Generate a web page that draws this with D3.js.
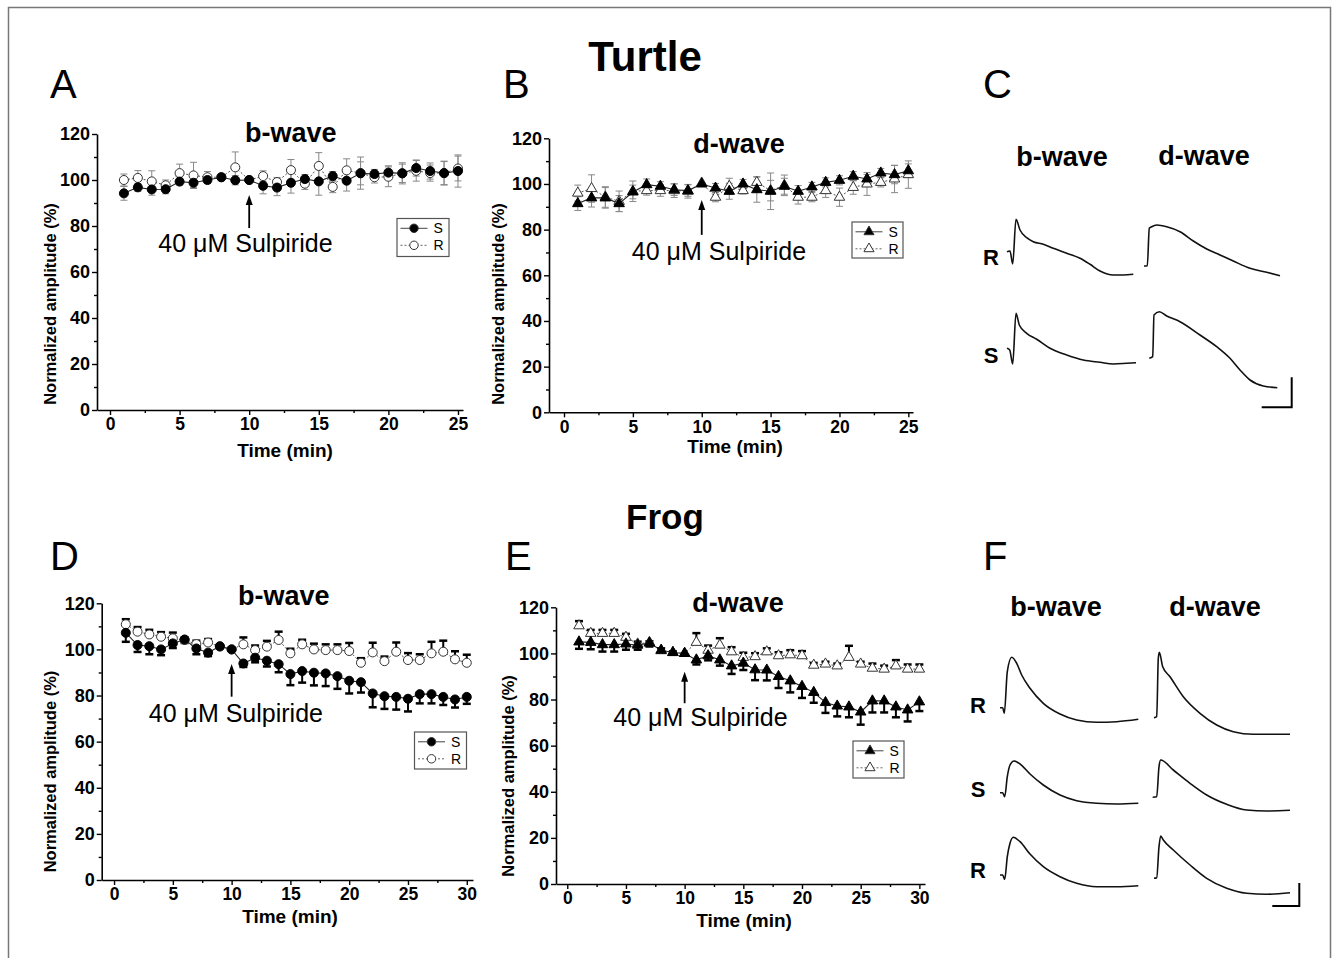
<!DOCTYPE html>
<html>
<head>
<meta charset="utf-8">
<script src="https://cdn.jsdelivr.net/npm/d3@7"></script>
<style>
  body { margin: 0; background: #fff; }
  svg { display: block; font-family: "Liberation Sans", Arial, Helvetica, sans-serif; }
</style>
</head>
<body>
<svg id="fig" width="1333" height="958"></svg>
<script>
// ---------------- data ----------------
const minutesTurtle = [1,2,3,4,5,6,7,8,9,10,11,12,13,14,15,16,17,18,19,20,21,22,23,24,25];
const minutesFrog = [1,2,3,4,5,6,7,8,9,10,11,12,13,14,15,16,17,18,19,20,21,22,23,24,25,26,27,28,29,30];

const yTicks = [0, 20, 40, 60, 80, 100, 120];
const yMinorTicks = [10, 30, 50, 70, 90, 110];
const xTicksTurtle = [0, 5, 10, 15, 20, 25];
const xMinorTurtle = [2.5, 7.5, 12.5, 17.5, 22.5];
const xTicksFrog = [0, 5, 10, 15, 20, 25, 30];
const xMinorFrog = [2.5, 7.5, 12.5, 17.5, 22.5, 27.5];

// Turtle b-wave (%), mean and SEM
const turtleBwaveS    = [94.2,96.8,95.9,96,99.3,98.8,100,101.2,99.9,100,97.5,96.7,98.8,100.4,99.4,101.7,99.7,102.9,102.6,103.2,102.9,105.2,103.9,103,103.9];
const turtleBwaveSerr = [3,1.7,2.5,2,1.5,2,1.5,1,2,0,3.5,3.5,4.5,2,6,2,4.5,5,2,3,4,3.5,3.5,5,7];
const turtleBwaveR    = [100,100.9,99.4,97.7,103,102,101.2,101.2,105.5,100,101.7,99.1,104.3,98.4,106.1,97,104.2,103,101.2,101.4,102.9,104,103,103,105];
const turtleBwaveRerr = [2.6,3.2,4.6,2.3,3.9,5.7,2.5,1.5,6.7,0,2.3,2,4.6,2.5,5.8,2.5,5,7,2.5,4.3,4.6,4.5,3.5,5.2,5.4];

// Turtle d-wave (%)
const turtleDwaveS    = [91.4,93.9,93.9,91.4,96.5,99.7,99,97.5,97.1,100,98.2,96.8,100,97.5,96.8,99,96.8,98.7,100.7,101.6,103.4,102.2,104.8,104.1,105.8];
const turtleDwaveSerr = [3,4,4.5,3.5,3,2.5,2,2.5,2.5,0,2,3.5,2,5.5,8,3.5,2.5,2,2,2,2,2,2,4,3];
const turtleDwaveR    = [96,98,94.3,92.4,96.8,97.1,97.1,97.1,96.8,100.4,94.2,99,97.1,100.7,97.1,99.4,94.2,94.2,97.1,94.2,98.5,100,100.7,102.2,104.1];
const turtleDwaveRerr = [3.5,6,4.5,4.5,4.5,2,2.5,3,3,0,2,3.5,1.5,2.5,4.5,4.5,3,2,3,4,3,5,2,6,6];

// Frog b-wave (%)
const frogBwaveS    = [107.2,101.9,101.4,100,102.6,104.3,100.4,98.6,101.4,100,93.9,96.4,95.1,93.6,89.3,90.6,89.9,89.6,88.4,86.4,85.8,80.9,79.7,79.4,78.6,80.6,80.6,79.4,78.3,79.4];
const frogBwaveSerr = [3.9,3,3.5,2.5,2,1.5,2.5,1.5,1,0,1.5,2,2.5,3.5,4.8,5,5.5,5.5,5.5,5.5,4.5,6,5.5,5.5,5.5,4,4,3.5,3.5,3];
const frogBwaveR    = [110.9,107.7,106.5,105.5,104.8,104.1,102.3,103,101.2,100,102.2,99.7,101.2,104.1,98.3,102.2,100,99.7,99.7,99.3,94.2,98.7,94.9,99,95.4,95.4,98.3,99,95.7,94.2];
const frogBwaveRerr = [2.2,2,2,2,2.5,1,1.5,1.5,0.5,0,3,2,2.5,3.6,2,2,2.5,2.5,2.5,3.5,2,4.2,2,4,3,2.5,5,4.8,3.5,3.5];

// Frog d-wave (%)
const frogDwaveS    = [105,104.8,103.8,103.8,104.1,103.6,104.5,101.4,100.4,100,97.2,99,97.2,94.6,95.8,92.9,92.8,90,88.1,85.7,83.1,78.7,77.2,76.8,74.6,79.4,79.4,76.8,75.5,79];
const frogDwaveSerr = [3,3,3,3,2.5,2,1.5,1,1,0,2,2,2.5,3.5,3,4.5,4.5,5,5,5,4.5,4.5,4.5,4.5,5.5,5,5,4.5,5,4];
const frogDwaveR    = [112,108.7,108.7,108.7,107,104.1,104.8,101.2,100.4,100,104.8,101.4,103.6,100.7,98.3,98.6,100.7,99,99.4,99,94.9,95.4,94.6,98.3,95.4,93.6,93.2,94.6,93.2,93.2];
const frogDwaveRerr = [2,1.5,1.5,1.5,1.5,1,0.5,1,0.5,0,4,2,3,2,2,1.5,1.5,1.5,2,2,1,1,1,5,1,2,1.5,2.5,2,2];

const drugLabel = "40 \u03BCM Sulpiride";
const drugTime = 10;

// Example ERG recordings: [time, amplitude] in trace units
const turtleTraceRb = [[0,14.3],[3,15],[5.7,2],[9,46.7],[13,36],[19.7,28.3],[26.3,24.3],[36.3,21.7],[46.3,17.7],[59.7,12.7],[73,7.7],[83,1.7],[93,-5],[106.3,-9],[116.3,-9],[126.3,-8.3]];
const turtleTraceRd = [[0,0],[3.3,0.3],[5.3,37.7],[7.7,39.3],[12.7,41],[22.7,39.3],[36,34.3],[49.3,25],[62.7,17],[76,11],[89.3,5],[106,-2.3],[122.7,-6.3],[136,-9.7]];
const turtleTraceSb = [[0,10],[2.7,8.3],[5.7,-5.7],[9,45],[12.3,33.3],[19.7,25],[29.7,19],[43,10],[59.7,3.3],[76.3,-1.7],[93,-4],[106.3,-5.7],[119.7,-5],[129,-4.4]];
const turtleTraceSd = [[5.3,0],[8.7,1.6],[10,43.3],[15.3,46.6],[22.7,42.3],[36,36.6],[56,23.3],[72.7,11.6],[86,0],[96,-11.7],[106,-21.7],[119.3,-27.7],[133.3,-29.4]];

const frogTraceR1b = [[0,10],[2.7,10],[4.3,4.4],[7.3,46],[11.7,60.4],[16.7,54.4],[21.7,42.7],[30,29.4],[43.3,14.4],[60,3.7],[76.7,-2.3],[96.7,-4.6],[116.7,-4],[138.3,-1.6]];
const frogTraceR1d = [[2,0],[4.7,1],[6.3,59.4],[7.3,65.4],[10.7,51],[18,41],[31.3,21],[48,4.4],[64.7,-7.3],[81.3,-14],[101.3,-16.6],[138,-16.6]];
const frogTraceSb  = [[0,4.6],[2.7,4.6],[4.7,0.6],[7.3,20.6],[10,32.3],[14,36.3],[20,33.3],[30,23.3],[43.3,12.3],[60,2.3],[76.7,-3.4],[96.7,-6],[116.7,-6.7],[138.3,-6]];
const frogTraceSd  = [[0.7,0],[4.7,0.6],[7,30.6],[8.7,37.3],[21.3,27.3],[38,14],[54.7,2.3],[74.7,-7],[94.7,-12.7],[114.7,-13.7],[138,-13]];
const frogTraceR2b = [[0,3.3],[2.7,3.3],[4.7,-1],[7.3,21.6],[10,35],[13.3,41],[20,36.6],[30,24.3],[43.3,11.6],[60,1.6],[76.7,-5],[96.7,-8.4],[116.7,-8.4],[138.3,-7.4]];
const frogTraceR2d = [[2,0],[4.7,0.6],[7,31.6],[8.7,42.3],[11.3,38.3],[21.3,28.3],[38,13.3],[54.7,0],[74.7,-10],[94.7,-15],[114.7,-16],[138,-14.4]];

// calibration bars [time length, amplitude length]
const turtleCalibration = [30, 30];
const frogCalibration = [27, 23];

// ---------------- drawing ----------------
const svg = d3.select("#fig");
const FONT = '"Liberation Sans", Arial, Helvetica, sans-serif';

// outer frame
svg.append("rect").attr("x", 8.5).attr("y", 7.5).attr("width", 1322).attr("height", 962)
  .attr("fill", "none").attr("stroke", "#777").attr("stroke-width", 1.5);

function text(g, x, y, str, o = {}) {
  return g.append("text").attr("x", x).attr("y", y).text(str)
    .attr("font-size", o.size || 16)
    .attr("font-weight", o.weight || "normal")
    .attr("text-anchor", o.anchor || "middle")
    .attr("fill", "#000");
}

function zip(t, v, e) { return t.map((d, i) => ({ t: d, v: v[i], e: e[i] })); }

function panel(L, D) {
  const g = svg.append("g");
  const x = d3.scaleLinear().domain([L.xMin, L.xEnd]).range([L.axisX, L.axisEnd]);
  const y = d3.scaleLinear().domain([0, 120]).range([L.y0, L.y120]);

  // axes
  const styleAxis = (a, fs) => {
    a.attr("font-family", FONT);
    a.selectAll(".domain").attr("stroke", "#000").attr("stroke-width", 1.6);
    a.selectAll(".tick line").attr("stroke", "#000").attr("stroke-width", 1.4);
    a.selectAll(".tick text").attr("font-size", fs).attr("font-weight", "bold").attr("fill", "#000");
  };
  const xa = g.append("g").attr("transform", `translate(0,${L.y0})`)
    .call(d3.axisBottom(x).tickValues(D.xTicks).tickSize(5).tickSizeOuter(0).tickPadding(3));
  styleAxis(xa, 17.5);
  const xm = g.append("g").attr("transform", `translate(0,${L.y0})`)
    .call(d3.axisBottom(x).tickValues(D.xMinor).tickSize(3).tickFormat(""));
  xm.select(".domain").remove(); styleAxis(xm, 17.5);
  const ya = g.append("g").attr("transform", `translate(${L.axisX},0)`)
    .call(d3.axisLeft(y).tickValues(yTicks).tickSize(5).tickSizeOuter(0).tickPadding(2));
  styleAxis(ya, 18);
  const ym = g.append("g").attr("transform", `translate(${L.axisX},0)`)
    .call(d3.axisLeft(y).tickValues(yMinorTicks).tickSize(3).tickFormat(""));
  ym.select(".domain").remove(); styleAxis(ym, 18);

  // axis titles
  text(g, L.xLabel[0], L.xLabel[1], "Time (min)", { size: 19, weight: "bold" });
  text(g, 0, 0, "Normalized amplitude (%)", { size: 16.5, weight: "bold" })
    .attr("transform", `translate(${L.yLabel[0]},${L.yLabel[1]}) rotate(-90)`)
    .attr("dy", "0.35em");
  text(g, L.title[0], L.title[1], D.title, { size: 27, weight: "bold" });

  const S = zip(D.t, D.S, D.Serr), R = zip(D.t, D.R, D.Rerr);
  const line = d3.line().x(d => x(d.t)).y(d => y(d.v));

  g.append("path").datum(R).attr("d", line).attr("fill", "none")
    .attr("stroke", "#555").attr("stroke-width", 1).attr("stroke-dasharray", "2,2");
  g.append("path").datum(S).attr("d", line).attr("fill", "none")
    .attr("stroke", "#222").attr("stroke-width", 1.1);

  // error bars
  const cap = L.cap;
  function bars(data, dir) {
    const eg = g.append("g").attr("stroke", L.errColor).attr("stroke-width", L.errWidth).attr("fill", "none");
    data.filter(d => d.e > 0).forEach(d => {
      const lo = dir === "up" ? d.v : d.v - d.e;
      const hi = dir === "down" ? d.v : d.v + d.e;
      eg.append("line").attr("x1", x(d.t)).attr("x2", x(d.t)).attr("y1", y(lo)).attr("y2", y(hi));
      if (dir !== "down") eg.append("line").attr("x1", x(d.t) - cap).attr("x2", x(d.t) + cap).attr("y1", y(hi)).attr("y2", y(hi)).attr("stroke-width", L.capWidth);
      if (dir !== "up") eg.append("line").attr("x1", x(d.t) - cap).attr("x2", x(d.t) + cap).attr("y1", y(lo)).attr("y2", y(lo)).attr("stroke-width", L.capWidth);
    });
  }
  bars(R, L.rDir);
  bars(S, L.sDir);

  const sym = d3.symbol().type(D.symbol).size(D.symbol === d3.symbolCircle ? 64 : 48);
  g.append("g").selectAll("path").data(R).join("path")
    .attr("d", sym).attr("transform", d => `translate(${x(d.t)},${y(d.v)})`)
    .attr("fill", "#fff").attr("stroke", "#333").attr("stroke-width", 1);
  g.append("g").selectAll("path").data(S).join("path")
    .attr("d", sym).attr("transform", d => `translate(${x(d.t)},${y(d.v)})`)
    .attr("fill", "#000").attr("stroke", "#000").attr("stroke-width", 1);

  // drug application arrow
  const ax = x(drugTime);
  g.append("line").attr("x1", ax).attr("x2", ax).attr("y1", y(L.arrow[0])).attr("y2", y(L.arrow[1]) + 8)
    .attr("stroke", "#000").attr("stroke-width", 1.8);
  g.append("path").attr("d", `M${ax},${y(L.arrow[1])} L${ax - 3.5},${y(L.arrow[1]) + 10} L${ax + 3.5},${y(L.arrow[1]) + 10} Z`)
    .attr("fill", "#000");
  text(g, x(L.drugText[0]), y(L.drugText[1]), drugLabel, { size: 25 });

  // legend
  const lg = g.append("g").attr("transform", `translate(${L.legend[0]},${L.legend[1]})`);
  lg.append("rect").attr("x", 0.5).attr("y", 0.5).attr("width", L.legend[2]).attr("height", L.legend[3])
    .attr("fill", "#fff").attr("stroke", "#555").attr("stroke-width", 1.2);
  [["S", 10.3, true], ["R", 27.3, false]].forEach(([name, yy, filled]) => {
    lg.append("line").attr("x1", 4).attr("x2", 31).attr("y1", yy).attr("y2", yy)
      .attr("stroke", filled ? "#444" : "#666").attr("stroke-width", 1)
      .attr("stroke-dasharray", filled ? null : "2,2");
    lg.append("path").attr("d", d3.symbol().type(D.symbol).size(D.symbol === d3.symbolCircle ? 56 : 44))
      .attr("transform", `translate(17.5,${yy})`)
      .attr("fill", filled ? "#000" : "#fff").attr("stroke", "#333");
    text(lg, 37, yy + 5, name, { size: 14, anchor: "start" });
  });
}

// Panel A - turtle b-wave
panel({ axisX: 97, axisEnd: 463, xMin: -0.934, xEnd: 25.36, y0: 410, y120: 134,
        xLabel: [285, 457], yLabel: [50, 304], title: [290.7, 141.7],
        arrow: [79.1, 93.5], drugText: [9.73, 68.8], legend: [396.5, 218, 52, 38],
        errColor: "#888", errWidth: 1, capWidth: 1, cap: 3.5, sDir: "both", rDir: "both" },
      { t: minutesTurtle, S: turtleBwaveS, Serr: turtleBwaveSerr, R: turtleBwaveR, Rerr: turtleBwaveRerr,
        xTicks: xTicksTurtle, xMinor: xMinorTurtle, symbol: d3.symbolCircle, title: "b-wave" });

// Panel B - turtle d-wave
panel({ axisX: 549, axisEnd: 913, xMin: -1.09, xEnd: 25.34, y0: 412.3, y120: 138.3,
        xLabel: [735, 453], yLabel: [498, 304], title: [739, 153.3],
        arrow: [77.7, 93], drugText: [11.25, 66.7], legend: [851.5, 221.5, 51, 36],
        errColor: "#888", errWidth: 1, capWidth: 1, cap: 3.5, sDir: "both", rDir: "both" },
      { t: minutesTurtle, S: turtleDwaveS, Serr: turtleDwaveSerr, R: turtleDwaveR, Rerr: turtleDwaveRerr,
        xTicks: xTicksTurtle, xMinor: xMinorTurtle, symbol: d3.symbolTriangle, title: "d-wave" });

// Panel D - frog b-wave
panel({ axisX: 101.7, axisEnd: 473, xMin: -1.05, xEnd: 30.53, y0: 880, y120: 603.3,
        xLabel: [290, 922.7], yLabel: [50, 771.5], title: [283.7, 605],
        arrow: [79.5, 93.7], drugText: [10.36, 68.6], legend: [414, 731.5, 52, 37],
        errColor: "#000", errWidth: 2, capWidth: 2.5, cap: 4, sDir: "down", rDir: "up" },
      { t: minutesFrog, S: frogBwaveS, Serr: frogBwaveSerr, R: frogBwaveR, Rerr: frogBwaveRerr,
        xTicks: xTicksFrog, xMinor: xMinorFrog, symbol: d3.symbolCircle, title: "b-wave" });

// Panel E - frog d-wave
panel({ axisX: 556, axisEnd: 925, xMin: -0.96, xEnd: 30.48, y0: 884, y120: 607.3,
        xLabel: [744, 926.7], yLabel: [508, 776], title: [738, 611.7],
        arrow: [78.4, 92.1], drugText: [11.35, 68.6], legend: [852.5, 740.5, 51, 37],
        errColor: "#000", errWidth: 2, capWidth: 2.5, cap: 4, sDir: "down", rDir: "up" },
      { t: minutesFrog, S: frogDwaveS, Serr: frogDwaveSerr, R: frogDwaveR, Rerr: frogDwaveRerr,
        xTicks: xTicksFrog, xMinor: xMinorFrog, symbol: d3.symbolTriangle, title: "d-wave" });

// ---------- example recordings (C, F) ----------
function traces(cols, rows, cells, calib, calibAt) {
  const g = svg.append("g");
  const xs = cols.map(c => d3.scaleLinear().domain([0, 140]).range([c, c + 140]));
  const ys = rows.map(r => d3.scaleLinear().domain([0, 60]).range([r, r - 60]));
  const line = (xsc, ysc) => d3.line().x(d => xsc(d[0])).y(d => ysc(d[1])).curve(d3.curveMonotoneX);
  cells.forEach(([data, ci, ri]) => {
    g.append("path").datum(data).attr("d", line(xs[ci], ys[ri]))
      .attr("fill", "none").attr("stroke", "#111").attr("stroke-width", 1.6).attr("stroke-linejoin", "round");
  });
  const [ci, ri, t0, v0] = calibAt;
  const xc = xs[ci], yc = ys[ri];
  g.append("path")
    .attr("d", `M${xc(t0 - calib[0])},${yc(v0)} L${xc(t0)},${yc(v0)} L${xc(t0)},${yc(v0 + calib[1])}`)
    .attr("fill", "none").attr("stroke", "#000").attr("stroke-width", 2);
}

traces([1007, 1144], [266, 358.3],
  [[turtleTraceRb, 0, 0], [turtleTraceRd, 1, 0], [turtleTraceSb, 0, 1], [turtleTraceSd, 1, 1]],
  turtleCalibration, [1, 1, 147.7, -49]);

traces([1000, 1152], [717.7, 797.3, 878.3],
  [[frogTraceR1b, 0, 0], [frogTraceR1d, 1, 0], [frogTraceSb, 0, 1], [frogTraceSd, 1, 1], [frogTraceR2b, 0, 2], [frogTraceR2d, 1, 2]],
  frogCalibration, [1, 2, 147.3, -27.7]);

// ---------- headings and letters ----------
const heads = svg.append("g");
text(heads, 645, 71, "Turtle", { size: 42, weight: "bold" });
text(heads, 665, 529, "Frog", { size: 35, weight: "bold" });
[["A", 50, 98], ["B", 503, 98], ["C", 983, 98], ["D", 50, 570], ["E", 505, 570], ["F", 983, 570]]
  .forEach(([s, x, y]) => text(heads, x, y, s, { size: 40, anchor: "start" }));
text(heads, 1062, 165.5, "b-wave", { size: 27, weight: "bold" });
text(heads, 1204, 165, "d-wave", { size: 27, weight: "bold" });
text(heads, 1056, 616, "b-wave", { size: 27, weight: "bold" });
text(heads, 1215, 616, "d-wave", { size: 27, weight: "bold" });
[["R", 991, 265], ["S", 991, 363], ["R", 978, 713], ["S", 978, 797], ["R", 978, 878]]
  .forEach(([s, x, y]) => text(heads, x, y, s, { size: 22, weight: "bold" }));
</script>
</body>
</html>
